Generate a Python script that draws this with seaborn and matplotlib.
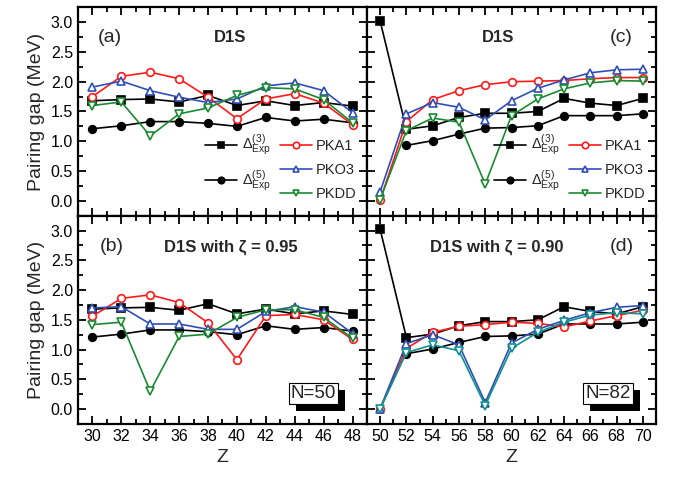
import numpy as np
import pandas as pd
import seaborn as sns
import matplotlib.pyplot as plt
import matplotlib.patheffects as pe
from matplotlib.lines import Line2D
from matplotlib.ticker import MultipleLocator

sns.set_theme(style='ticks')
plt.rcParams['font.family'] = ['Liberation Sans', 'DejaVu Sans']
plt.rcParams['mathtext.fontset'] = 'custom'
plt.rcParams['mathtext.rm'] = 'Liberation Sans'
plt.rcParams['mathtext.it'] = 'Liberation Sans'
plt.rcParams['mathtext.default'] = 'regular'

# data
z_left = [30, 32, 34, 36, 38, 40, 42, 44, 46, 48]
z_right = [50, 52, 54, 56, 58, 60, 62, 64, 66, 68, 70]

exp3_left = [1.68, 1.70, 1.71, 1.66, 1.77, 1.60, 1.68, 1.60, 1.65, 1.59]
exp5_left = [1.21, 1.26, 1.33, 1.33, 1.30, 1.25, 1.40, 1.34, 1.37, 1.31]
exp3_right = [3.02, 1.20, 1.26, 1.40, 1.47, 1.47, 1.50, 1.72, 1.64, 1.60, 1.72]
exp5_right = [np.nan, 0.93, 1.01, 1.12, 1.22, 1.23, 1.26, 1.43, 1.43, 1.43, 1.46]

a_pka1 = [1.75, 2.09, 2.16, 2.05, 1.74, 1.38, 1.71, 1.80, 1.64, 1.28]
a_pko3 = [1.91, 2.01, 1.85, 1.74, 1.65, 1.71, 1.93, 1.98, 1.85, 1.48]
a_pkdd = [1.60, 1.66, 1.09, 1.46, 1.56, 1.77, 1.90, 1.88, 1.70, 1.31]

b_pka1 = [1.56, 1.86, 1.92, 1.79, 1.45, 0.83, 1.57, 1.59, 1.50, 1.17]
b_pko3 = [1.70, 1.72, 1.43, 1.43, 1.34, 1.34, 1.64, 1.72, 1.63, 1.27]
b_pkdd = [1.42, 1.46, 0.30, 1.22, 1.26, 1.54, 1.67, 1.67, 1.54, 1.19]

c_pka1 = [0.01, 1.33, 1.70, 1.85, 1.95, 2.00, 2.01, 2.02, 2.05, 2.07, 2.07]
c_pko3 = [0.15, 1.46, 1.65, 1.57, 1.36, 1.68, 1.89, 2.03, 2.15, 2.20, 2.21]
c_pkdd = [0.02, 1.18, 1.39, 1.32, 0.28, 1.43, 1.71, 1.88, 1.98, 2.02, 2.01]

d_pka1 = [0.00, 1.02, 1.29, 1.39, 1.42, 1.46, 1.44, 1.38, 1.48, 1.57, 1.66]
d_pko3 = [0.01, 1.10, 1.25, 1.08, 0.11, 1.11, 1.34, 1.49, 1.62, 1.71, 1.74]
d_pkdd = [0.00, 0.95, 1.08, 0.98, 0.06, 1.02, 1.29, 1.46, 1.58, 1.62, 1.60]

lab3 = r'$\Delta^{(3)}_{\rm Exp}$'
lab5 = r'$\Delta^{(5)}_{\rm Exp}$'

red = '#ff1a1a'
blue = '#2f4fb5'
green = '#1a8a32'
teal = '#139090'

fig, axes = plt.subplots(2, 2, figsize=(6.78, 4.78), dpi=100)
fig.subplots_adjust(left=0.115, right=0.9676, top=0.9847, bottom=0.113,
                    hspace=0, wspace=0)


def draw(ax, z, e3, e5, pka1, pko3, pkdd, gcol):
    common = dict(ax=ax, linewidth=1.2, markersize=5.5, markeredgewidth=1.2)
    sns.lineplot(x=z, y=e3, color='black', marker='s', markerfacecolor='black',
                 markeredgecolor='black', label=lab3, **common)
    sns.lineplot(x=z, y=e5, color='black', marker='o', markerfacecolor='black',
                 markeredgecolor='black', label=lab5, **common)
    sns.lineplot(x=z, y=pka1, color=red, marker='o', markerfacecolor='white',
                 markeredgecolor=red, label='PKA1', **common)
    sns.lineplot(x=z, y=pko3, color=blue, marker='^', markerfacecolor='white',
                 markeredgecolor=blue, label='PKO3', **common)
    sns.lineplot(x=z, y=pkdd, color=gcol, marker='v', markerfacecolor='white',
                 markeredgecolor=gcol, label='PKDD', **common)
    if ax.get_legend() is not None:
        ax.get_legend().remove()


draw(axes[0, 0], z_left, exp3_left, exp5_left, a_pka1, a_pko3, a_pkdd, green)
draw(axes[1, 0], z_left, exp3_left, exp5_left, b_pka1, b_pko3, b_pkdd, green)
draw(axes[0, 1], z_right, exp3_right, exp5_right, c_pka1, c_pko3, c_pkdd, green)
draw(axes[1, 1], z_right, exp3_right, exp5_right, d_pka1, d_pko3, d_pkdd, teal)

for i in range(2):
    for j in range(2):
        ax = axes[i, j]
        ax.set_ylim(-0.25, 3.25)
        if j == 0:
            ax.set_xlim(29, 49)
            ax.set_xticks(z_left)
        else:
            ax.set_xlim(49, 71)
            ax.set_xticks(z_right)
        ax.xaxis.set_minor_locator(MultipleLocator(1))
        ax.yaxis.set_major_locator(MultipleLocator(0.5))
        ax.yaxis.set_minor_locator(MultipleLocator(0.25))
        ax.tick_params(which='both', direction='in', top=True, right=True,
                       width=1.3, labelsize=11.5, colors='black')
        ax.tick_params(which='major', length=6)
        ax.tick_params(which='minor', length=3.5)
        for s in ax.spines.values():
            s.set_linewidth(1.6)
            s.set_color('black')
        if i == 0:
            ax.tick_params(labelbottom=False)
            ax.set_xlabel('')
        else:
            ax.set_xlabel('Z', fontsize=14)
        if j == 1:
            ax.tick_params(labelleft=False)
            ax.set_ylabel('')
        else:
            ax.set_ylabel('Pairing gap (MeV)', fontsize=14)
            ax.set_yticks([0.0, 0.5, 1.0, 1.5, 2.0, 2.5, 3.0])
            ax.set_yticklabels(['0.0', '0.5', '1.0', '1.5', '2.0', '2.5', '3.0'])

# panel labels
axes[0, 0].text(0.11, 0.855, '(a)', transform=axes[0, 0].transAxes, fontsize=14, ha='center', va='center')
axes[0, 0].text(0.526, 0.855, 'D1S', transform=axes[0, 0].transAxes, fontsize=12, fontweight='bold', ha='center', va='center')
axes[1, 0].text(0.118, 0.85, '(b)', transform=axes[1, 0].transAxes, fontsize=14, ha='center', va='center')
axes[1, 0].text(0.53, 0.85, 'D1S with ζ = 0.95', transform=axes[1, 0].transAxes, fontsize=12, fontweight='bold', ha='center', va='center')
axes[0, 1].text(0.88, 0.855, '(c)', transform=axes[0, 1].transAxes, fontsize=14, ha='center', va='center')
axes[0, 1].text(0.453, 0.855, 'D1S', transform=axes[0, 1].transAxes, fontsize=12, fontweight='bold', ha='center', va='center')
axes[1, 1].text(0.88, 0.85, '(d)', transform=axes[1, 1].transAxes, fontsize=14, ha='center', va='center')
axes[1, 1].text(0.45, 0.85, 'D1S with ζ = 0.90', transform=axes[1, 1].transAxes, fontsize=12, fontweight='bold', ha='center', va='center')

# N boxes with shadow
for ax, txt, xpos in [(axes[1, 0], 'N=50', 0.814), (axes[1, 1], 'N=82', 0.834)]:
    t = ax.text(xpos, 0.145, txt, transform=ax.transAxes, fontsize=13.5,
                ha='center', va='center',
                bbox=dict(boxstyle='square,pad=0.1', facecolor='white', edgecolor='black', linewidth=0.8))
    t.get_bbox_patch().set_path_effects([
        pe.SimplePatchShadow(offset=(5, -5), shadow_rgbFace='black', alpha=1),
        pe.Normal()])

# legends
for ax, anchor in [(axes[0, 0], (0.965, -0.01)), (axes[0, 1], (0.965, -0.01))]:
    h, l = ax.get_legend_handles_labels()
    blank = Line2D([], [], linestyle='none', marker=None)
    handles = [h[0], h[1], blank, h[2], h[3], h[4]]
    labels = [l[0], l[1], '', l[2], l[3], l[4]]
    ax.legend(handles, labels, ncol=2, loc='lower right', bbox_to_anchor=anchor,
              frameon=False, fontsize=10.5, markerscale=0.85, handlelength=2.2,
              handletextpad=0.3, columnspacing=0.6, labelspacing=0.7,
              borderaxespad=0, borderpad=0)

fig.savefig('out.png', dpi=100)
